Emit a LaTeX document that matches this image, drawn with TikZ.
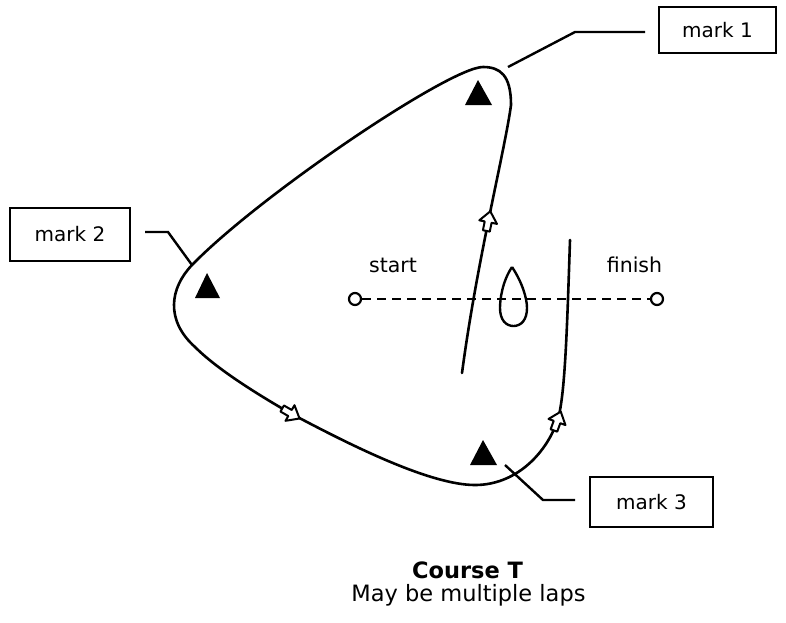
\documentclass[tikz,border=0pt]{standalone}
\usepackage{fontspec}
\setmainfont{DejaVu Sans}
\begin{document}
\begin{tikzpicture}[x=1pt,y=-1pt,
  course/.style={line width=2.6pt, line join=round, line cap=round},
  markbox/.style={draw, line width=2.4pt, inner sep=0pt, font=\fontsize{20}{24}\selectfont},
  leader/.style={line width=2.4pt},
  buoy/.style={fill=black},
  lbl/.style={font=\fontsize{20.5}{24}\selectfont, anchor=base},
  endpt/.style={circle, draw, line width=2.2pt, fill=white, minimum size=12pt, inner sep=0pt},
  openarrow/.pic={\filldraw[fill=white, line width=2pt, line join=round]
     (11,0) -- (0,9) -- (0,3.5) -- (-9,3.5) -- (-9,-3.5) -- (0,-3.5) -- (0,-9) -- cycle;}
]
\useasboundingbox (0,0) rectangle (786,622);

% course line
\draw[course] (462,373) .. controls (477,260) and (505,150) .. (511,105)
  .. controls (511,75) and (500,67) .. (483,67)
  .. controls (450,67) and (260,195) .. (192,265)
  .. controls (170,288) and (165,320) .. (195,347)
  .. controls (215,367) and (250,390) .. (290,413)
  .. controls (350,445) and (430,485) .. (475,485)
  .. controls (515,485) and (545,455) .. (557,422)
  .. controls (565,400) and (567,330) .. (570,240);

% direction arrows
\path (462,373) .. controls (477,260) and (505,150) .. (511,105) pic[pos=0.47, sloped]{openarrow};
\path (195,347) .. controls (215,367) and (250,390) .. (290,413) pic[pos=1, sloped]{openarrow};
\path (475,485) .. controls (515,485) and (545,455) .. (557,422) pic[pos=1, sloped]{openarrow};

% marks
\fill[buoy] (478,80) -- (492,105) -- (465,105) -- cycle;
\fill[buoy] (207,273) -- (220,298) -- (195,298) -- cycle;
\fill[buoy] (483,440) -- (497,465) -- (470,465) -- cycle;

% boxes
\node[markbox, minimum width=117pt, minimum height=46pt] (m1) at (717.5,30) {mark 1};
\node[markbox, minimum width=120pt, minimum height=53pt] (m2) at (70,234.5) {mark 2};
\node[markbox, minimum width=123pt, minimum height=50pt] (m3) at (651.5,502) {mark 3};

% leaders
\coordinate (a1) at (508,67); \coordinate (b1) at (575,32); \coordinate (c1) at (645,32);
\draw[leader] (a1) -- (b1) -- (c1);
\coordinate (a2) at (145,232); \coordinate (b2) at (168,232); \coordinate (c2) at (192,265);
\draw[leader] (a2) -- (b2) -- (c2);
\coordinate (a3) at (505,465); \coordinate (b3) at (543,500); \coordinate (c3) at (575,500);
\draw[leader] (a3) -- (b3) -- (c3);

% start / finish line
\node[endpt] (s) at (355,299) {};
\node[endpt] (f) at (657,299) {};
\draw[line width=2pt, dash pattern=on 9pt off 6pt] (s) -- (f);
\node[lbl] (st) at (393,272) {start};
\node[lbl] (fi) at (634.5,272) {finish};

% boat
\draw[line width=2.4pt] (512,267) .. controls (502,282) and (500,300) .. (500,308)
  .. controls (500,320) and (506,326) .. (513.5,326)
  .. controls (521,326) and (527,320) .. (527,308)
  .. controls (527,298) and (522,282) .. (512,267);

% caption
\node[anchor=base, font=\bfseries\fontsize{22.5}{26}\selectfont] (t1) at (467.5,578) {Course T};
\node[anchor=base, font=\fontsize{22.5}{26}\selectfont] (t2) at (468.5,601) {May be multiple laps};
\end{tikzpicture}
\end{document}
